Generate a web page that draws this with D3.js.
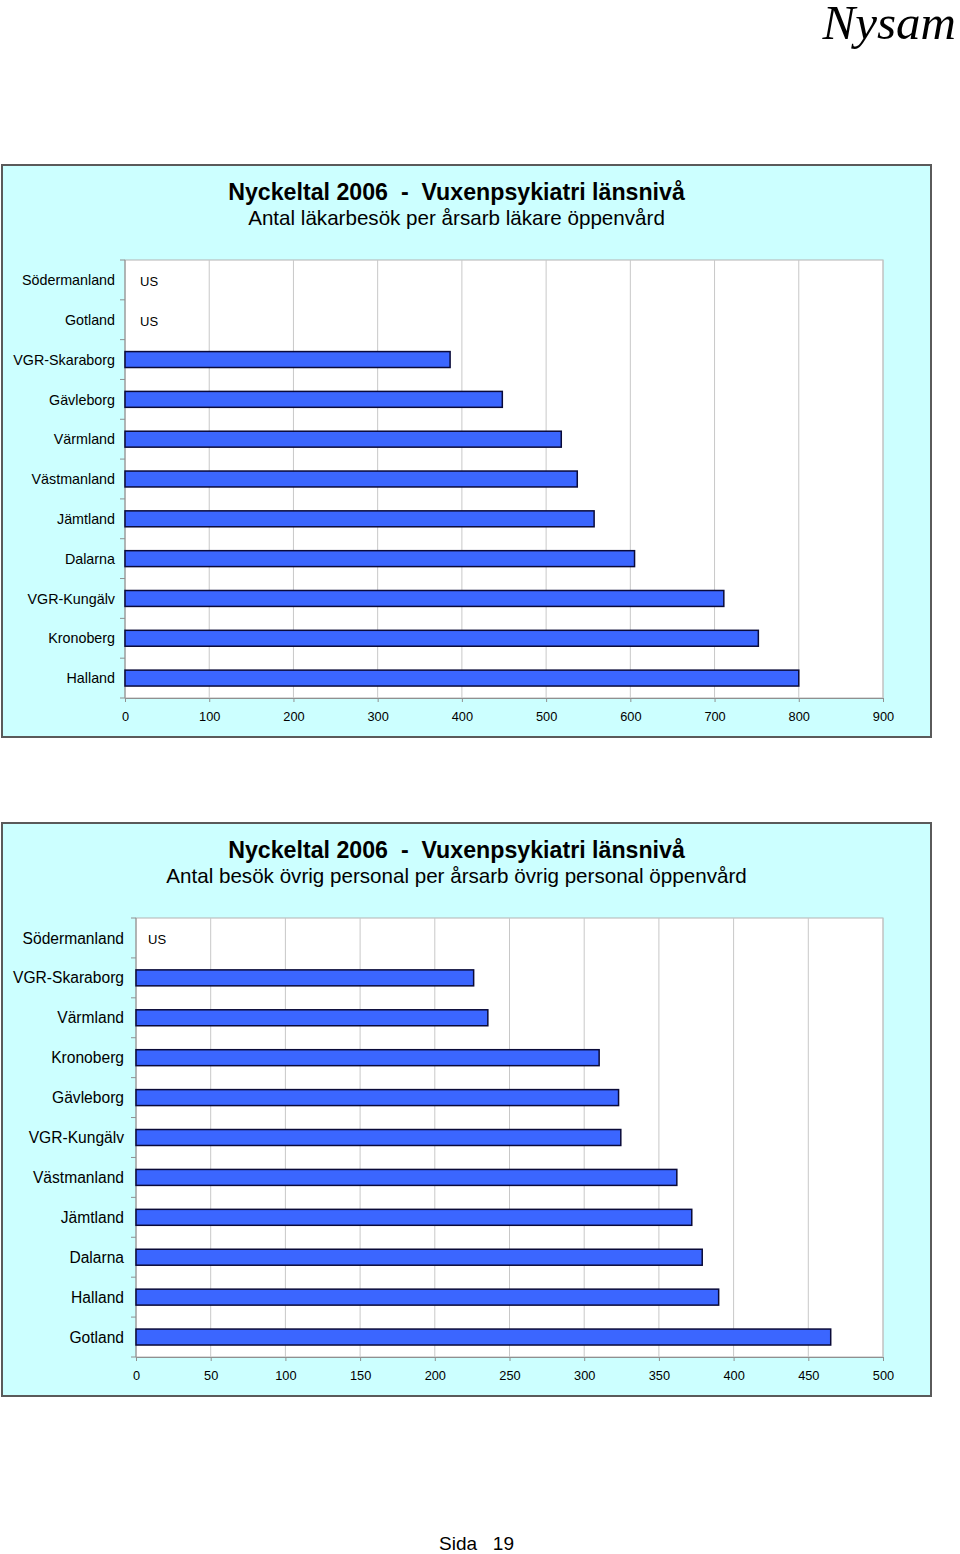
<!DOCTYPE html>
<html>
<head>
<meta charset="utf-8">
<script src="https://cdn.jsdelivr.net/npm/d3@7/dist/d3.min.js"></script>
<style>
  html, body { margin: 0; padding: 0; background: #ffffff; }
  svg { display: block; font-family: "Liberation Sans", Arial, sans-serif; }
</style>
</head>
<body>
<svg id="page" width="960" height="1554"></svg>
<script>
// ---------- DATA ----------
const pageHeader = "Nysam";
const pageFooter = "Sida   19";

const chartTitle = "Nyckeltal 2006  -  Vuxenpsykiatri länsnivå";

const chart1Subtitle = "Antal läkarbesök per årsarb läkare öppenvård";
const chart1Categories = ["Södermanland", "Gotland", "VGR-Skaraborg", "Gävleborg", "Värmland",
  "Västmanland", "Jämtland", "Dalarna", "VGR-Kungälv", "Kronoberg", "Halland"];
const chart1Values = [null, null, 386, 448, 518, 537, 557, 605, 711, 752, 800];
const chart1Ticks = [0, 100, 200, 300, 400, 500, 600, 700, 800, 900];

const chart2Subtitle = "Antal besök övrig personal per årsarb övrig personal öppenvård";
const chart2Categories = ["Södermanland", "VGR-Skaraborg", "Värmland", "Kronoberg", "Gävleborg",
  "VGR-Kungälv", "Västmanland", "Jämtland", "Dalarna", "Halland", "Gotland"];
const chart2Values = [null, 226, 235.5, 310, 323, 324.5, 362, 372, 379, 390, 465];
const chart2Ticks = [0, 50, 100, 150, 200, 250, 300, 350, 400, 450, 500];

const missingLabel = "US";

// ---------- DRAWING ----------
const svg = d3.select("#page");

svg.append("text")
  .attr("x", 956).attr("y", 39)
  .attr("text-anchor", "end")
  .style("font-family", "'Liberation Serif', 'Times New Roman', serif")
  .style("font-style", "italic")
  .style("font-size", "49px")
  .attr("fill", "#000")
  .text(pageHeader);

svg.append("text")
  .attr("x", 439).attr("y", 1550)
  .style("font-size", "19px")
  .style("white-space", "pre")
  .attr("fill", "#000")
  .text(pageFooter);

function drawChart(cfg) {
  const g = svg.append("g");
  // panel
  g.append("rect")
    .attr("x", cfg.panel.x).attr("y", cfg.panel.y)
    .attr("width", cfg.panel.w).attr("height", cfg.panel.h)
    .attr("fill", "#ccffff").attr("stroke", "#5a5a5a").attr("stroke-width", 2);

  const cx = 456.5;
  g.append("text")
    .attr("x", cx).attr("y", cfg.panel.y + 35)
    .attr("text-anchor", "middle")
    .style("font-size", "23.2px").style("font-weight", "bold")
    .style("white-space", "pre")
    .text(chartTitle);
  g.append("text")
    .attr("x", cx).attr("y", cfg.panel.y + 60)
    .attr("text-anchor", "middle")
    .style("font-size", "20.6px")
    .text(cfg.subtitle);

  const p = cfg.plot;
  const x = d3.scaleLinear().domain([0, cfg.ticks[cfg.ticks.length - 1]]).range([p.x0, p.x1]);
  const y = d3.scaleBand().domain(cfg.categories).range([p.y0, p.y1]).paddingInner(0.6).paddingOuter(0.3);
  const yFull = d3.scaleBand().domain(cfg.categories).range([p.y0, p.y1]);

  // plot area
  g.append("rect")
    .attr("x", p.x0).attr("y", p.y0)
    .attr("width", p.x1 - p.x0).attr("height", p.y1 - p.y0)
    .attr("fill", "#ffffff").attr("stroke", "#b4b4b4").attr("stroke-width", 1);

  // gridlines
  g.append("g").selectAll("line")
    .data(cfg.ticks.slice(1))
    .join("line")
    .attr("x1", d => x(d)).attr("x2", d => x(d))
    .attr("y1", p.y0).attr("y2", p.y1)
    .attr("stroke", "#c8c8c8").attr("stroke-width", 1);

  // x axis
  const xAxis = g.append("g")
    .attr("transform", `translate(0,${p.y1})`)
    .call(d3.axisBottom(x).tickValues(cfg.ticks).tickSize(4).tickPadding(10).tickFormat(d3.format("d")));
  xAxis.select(".domain").attr("stroke", "#909090");
  xAxis.selectAll(".tick line").attr("stroke", "#909090");
  xAxis.selectAll(".tick text")
    .style("font-size", "12.8px")
    .style("font-family", "'Liberation Sans', Arial, sans-serif")
    .attr("fill", "#000");

  // y axis: line + ticks at band boundaries
  g.append("line")
    .attr("x1", p.x0).attr("x2", p.x0).attr("y1", p.y0).attr("y2", p.y1)
    .attr("stroke", "#909090");
  const bounds = cfg.categories.map(c => yFull(c)).concat([p.y1]);
  g.append("g").selectAll("line")
    .data(bounds)
    .join("line")
    .attr("x1", p.x0 - 5).attr("x2", p.x0)
    .attr("y1", d => d).attr("y2", d => d)
    .attr("stroke", "#909090");

  // y labels
  g.append("g").selectAll("text")
    .data(cfg.categories)
    .join("text")
    .attr("x", p.x0 - cfg.labelOffset)
    .attr("y", d => yFull(d) + yFull.bandwidth() / 2)
    .attr("dy", "0.36em")
    .attr("text-anchor", "end")
    .style("font-size", cfg.labelSize)
    .text(d => d);

  const data = cfg.categories.map((c, i) => ({ c, v: cfg.values[i] }));

  // bars
  g.append("g").selectAll("rect")
    .data(data.filter(d => d.v != null))
    .join("rect")
    .attr("x", x(0))
    .attr("y", d => y(d.c))
    .attr("width", d => x(d.v) - x(0))
    .attr("height", y.bandwidth())
    .attr("fill", "#3b66ff")
    .attr("stroke", "#0a0a38")
    .attr("stroke-width", 1.5);

  // missing labels
  g.append("g").selectAll("text")
    .data(data.filter(d => d.v == null))
    .join("text")
    .attr("x", x(0) + cfg.usOffset)
    .attr("y", d => yFull(d.c) + yFull.bandwidth() / 2 + 1.5)
    .attr("dy", "0.36em")
    .style("font-size", "13px")
    .text(missingLabel);
}

drawChart({
  panel: { x: 2, y: 165, w: 929, h: 572 },
  subtitle: chart1Subtitle,
  categories: chart1Categories,
  values: chart1Values,
  ticks: chart1Ticks,
  plot: { x0: 125, x1: 883, y0: 260, y1: 698 },
  labelSize: "14.3px",
  labelOffset: 10,
  usOffset: 15
});

drawChart({
  panel: { x: 2, y: 823, w: 929, h: 573 },
  subtitle: chart2Subtitle,
  categories: chart2Categories,
  values: chart2Values,
  ticks: chart2Ticks,
  plot: { x0: 136, x1: 883, y0: 918, y1: 1357 },
  labelSize: "15.6px",
  labelOffset: 12,
  usOffset: 12
});
</script>
</body>
</html>
